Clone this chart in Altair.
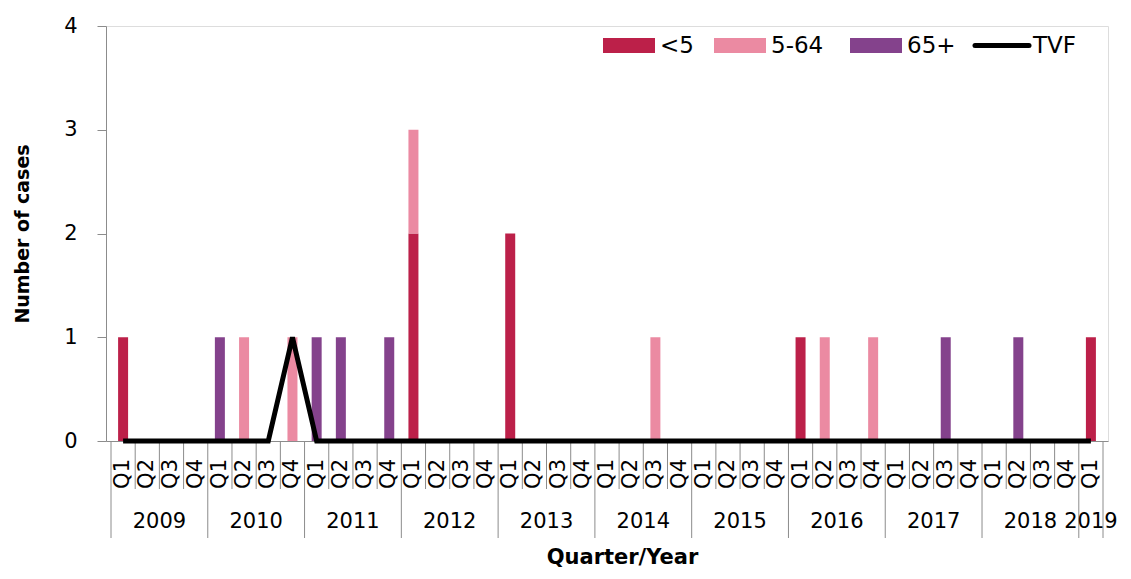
import altair as alt
import pandas as pd

# ---------------- data ----------------
quarter_labels = ["Q1", "Q2", "Q3", "Q4"] * 10 + ["Q1"]
year_labels = [str(y) for y in range(2009, 2019) for _ in range(4)] + ["2019"]

under5 = [1, 0, 0, 0,  0, 0, 0, 0,  0, 0, 0, 0,  2, 0, 0, 0,  2, 0, 0, 0,
          0, 0, 0, 0,  0, 0, 0, 0,  1, 0, 0, 0,  0, 0, 0, 0,  0, 0, 0, 0,  1]
age5_64 = [0, 0, 0, 0,  0, 1, 0, 1,  0, 0, 0, 0,  1, 0, 0, 0,  0, 0, 0, 0,
           0, 0, 1, 0,  0, 0, 0, 0,  0, 1, 0, 1,  0, 0, 0, 0,  0, 0, 0, 0,  0]
age65 = [0, 0, 0, 0,  1, 0, 0, 0,  1, 1, 0, 1,  0, 0, 0, 0,  0, 0, 0, 0,
         0, 0, 0, 0,  0, 0, 0, 0,  0, 0, 0, 0,  0, 0, 1, 0,  0, 1, 0, 0,  0]
tvf = [0, 0, 0, 0,  0, 0, 0, 1,  0, 0, 0, 0,  0, 0, 0, 0,  0, 0, 0, 0,
       0, 0, 0, 0,  0, 0, 0, 0,  0, 0, 0, 0,  0, 0, 0, 0,  0, 0, 0, 0,  0]

groups = ["<5", "5-64", "65+"]
colors = ["#BC2049", "#EB8AA2", "#84428C"]

# ---------------- tables ----------------
n = len(quarter_labels)
idx = list(range(n))
rows = []
for g_i, (g, vals) in enumerate(zip(groups, [under5, age5_64, age65])):
    for i, v in enumerate(vals):
        if v > 0:
            rows.append({"i": i, "group": g, "value": v, "order": g_i})
bars_df = pd.DataFrame(rows)
line_df = pd.DataFrame({"i": idx, "tvf": tvf})
q_df = pd.DataFrame({"i": idx, "q": quarter_labels, "year": year_labels})
sep_df = pd.DataFrame({"pos": [i - 0.5 for i in idx] + [n - 0.5],
                       "kind": ["year" if q == "Q1" else "q" for q in quarter_labels] + ["year"]})
yr_df = q_df.groupby("year", as_index=False)["i"].mean()

W, H = 1002, 415
FONT = "DejaVu Sans"
GRAY = "#8c8c8c"

xscale = alt.Scale(domain=[-0.5, n - 0.5], nice=False, zero=False)
xaxis = alt.Axis(labels=False, ticks=False, grid=False, domainColor=GRAY,
                 title="Quarter/Year", titleFontSize=21, titleFontWeight="bold",
                 titleFont=FONT, titleColor="black", titleX=516, titleY=116,
                 titleAlign="center", titleBaseline="middle")
yscale = alt.Scale(domain=[0, 4], nice=False)
yaxis = alt.Axis(values=[0, 1, 2, 3, 4], grid=False, tickSize=9, tickColor=GRAY,
                 domainColor=GRAY, labelFontSize=21, labelPadding=20, labelFont=FONT,
                 labelColor="black", labelFlush=False,
                 title="Number of cases", titleFontSize=19, titleFontWeight="bold",
                 titleFont=FONT, titleColor="black", titleX=-84, titleY=H / 2,
                 titleAngle=270, titleAlign="center", titleBaseline="middle")

bars = alt.Chart(bars_df).mark_bar(size=10).encode(
    x=alt.X("i:Q", scale=xscale, axis=xaxis),
    y=alt.Y("sum(value):Q", scale=yscale, axis=yaxis, stack="zero"),
    color=alt.Color("group:N", scale=alt.Scale(domain=groups, range=colors), legend=None),
    order=alt.Order("order:Q", sort="ascending"),
)

line = alt.Chart(line_df).mark_line(color="black", strokeWidth=5).encode(
    x=alt.X("i:Q", scale=xscale, axis=xaxis),
    y=alt.Y("tvf:Q", scale=yscale, axis=yaxis),
)

q_sep = alt.Chart(sep_df).transform_filter("datum.kind == 'q'").mark_rule(
    color=GRAY, strokeWidth=1).encode(
    x=alt.X("pos:Q", scale=xscale, axis=xaxis),
    y=alt.value(H), y2=alt.value(H + 48))

y_sep = alt.Chart(sep_df).transform_filter("datum.kind == 'year'").mark_rule(
    color=GRAY, strokeWidth=1).encode(
    x=alt.X("pos:Q", scale=xscale, axis=xaxis),
    y=alt.value(H), y2=alt.value(H + 97))

q_text = alt.Chart(q_df).mark_text(
    angle=270, align="right", baseline="middle", fontSize=21, font=FONT, color="black"
).encode(
    x=alt.X("i:Q", scale=xscale, axis=xaxis),
    y=alt.value(H + 18),
    text="q:N")

yr_text = alt.Chart(yr_df).mark_text(
    baseline="middle", align="center", fontSize=21, font=FONT, color="black"
).encode(
    x=alt.X("i:Q", scale=xscale, axis=xaxis),
    y=alt.value(H + 81),
    text="year:N")

# ---------------- legend ----------------
legend_layers = []
leg_rect_x = [497, 608, 744]
leg_text_x = [554, 665, 801]
for g, c, rx, tx in zip(groups, colors, leg_rect_x, leg_text_x):
    d = pd.DataFrame({"label": [g]})
    legend_layers.append(alt.Chart(d).mark_rect(color=c).encode(
        x=alt.value(rx), x2=alt.value(rx + 52), y=alt.value(12), y2=alt.value(27)))
    legend_layers.append(alt.Chart(d).mark_text(
        align="left", baseline="middle", fontSize=23, font=FONT, color="black").encode(
        x=alt.value(tx), y=alt.value(19.5), text="label:N"))
d_tvf = pd.DataFrame({"label": ["TVF"]})
legend_layers.append(alt.Chart(d_tvf).mark_rule(color="black", strokeWidth=5, strokeCap="round").encode(
    x=alt.value(869), x2=alt.value(923), y=alt.value(19.5)))
legend_layers.append(alt.Chart(d_tvf).mark_text(
    align="left", baseline="middle", fontSize=23, font=FONT, color="black").encode(
    x=alt.value(927), y=alt.value(19.5), text="label:N"))

chart = alt.layer(q_sep, y_sep, bars, line, q_text, yr_text, *legend_layers).properties(
    width=W, height=H,
    autosize=alt.AutoSizeParams(type="none"),
    padding={"left": 98, "top": 18, "right": 15, "bottom": 126},
).configure_view(stroke=None).configure(background="white")

chart.save("out.html", embed_options={"renderer": "svg", "actions": False})
